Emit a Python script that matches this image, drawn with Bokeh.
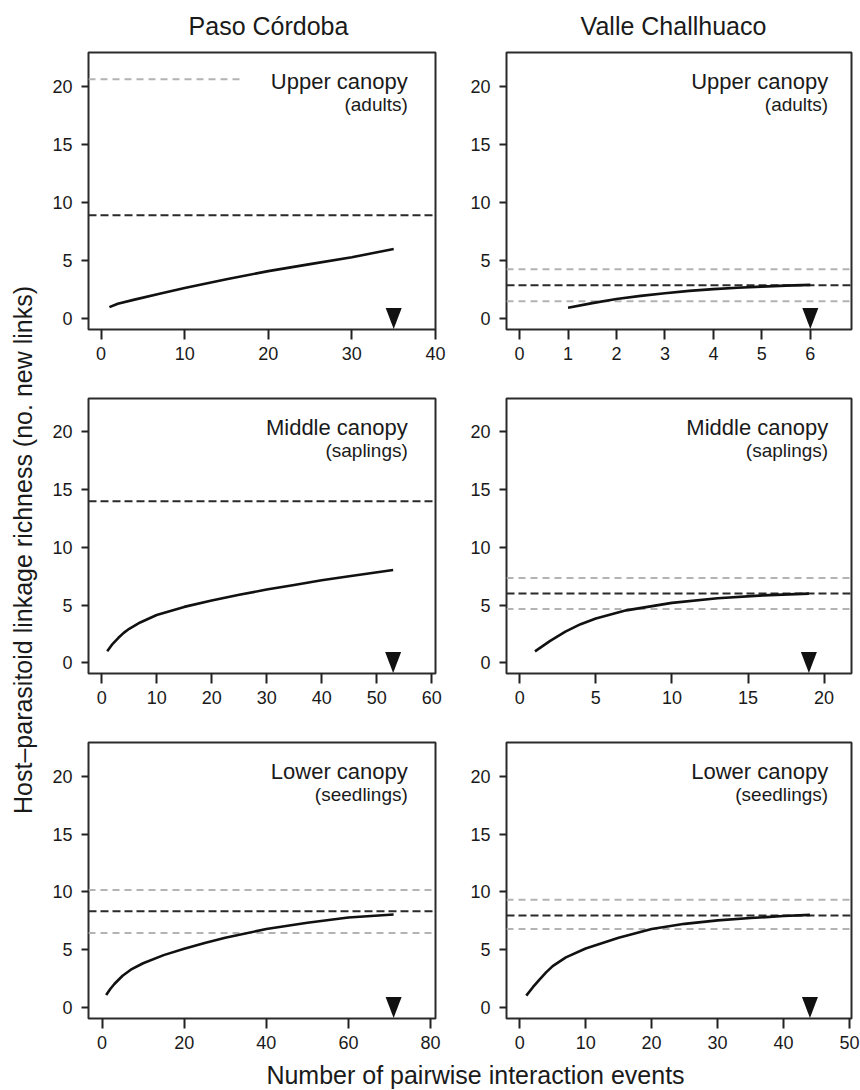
import math
from bokeh.plotting import figure
from bokeh.models import Range1d, FixedTicker, Span, Label, BoxAnnotation
from bokeh.layouts import row, column
from bokeh.embed import file_html
from bokeh.resources import INLINE

FONT = "Liberation Sans"
TXT = "#1a1a1a"
MID = 0.3465  # distance (em) between alphabetic baseline and "middle"

# ---------------- data ----------------
sites = ["Paso Córdoba", "Valle Challhuaco"]
strata = ["Upper canopy", "Middle canopy", "Lower canopy"]
stages = ["(adults)", "(saplings)", "(seedlings)"]
y_ticks = [0, 5, 10, 15, 20]

# Paso Córdoba
pc_upper_x = [1, 2, 4, 7, 10, 15, 20, 25, 30, 35]
pc_upper_y = [1.0, 1.3, 1.65, 2.15, 2.65, 3.4, 4.1, 4.7, 5.3, 6.0]
pc_middle_x = [1, 2, 3, 4, 5, 7, 10, 15, 20, 25, 30, 35, 40, 45, 53]
pc_middle_y = [1.0, 1.65, 2.15, 2.6, 2.95, 3.5, 4.15, 4.85, 5.4, 5.9, 6.35, 6.75, 7.15, 7.5, 8.05]
pc_lower_x = [1, 2, 3, 5, 7, 10, 15, 20, 25, 30, 40, 50, 60, 71]
pc_lower_y = [1.1, 1.63, 2.06, 2.77, 3.29, 3.85, 4.55, 5.1, 5.6, 6.05, 6.8, 7.35, 7.8, 8.05]

# Valle Challhuaco
vc_upper_x = [1, 1.5, 2, 2.5, 3, 3.5, 4, 4.5, 5, 5.5, 6]
vc_upper_y = [0.95, 1.35, 1.7, 1.97, 2.2, 2.4, 2.55, 2.67, 2.77, 2.85, 2.92]
vc_middle_x = [1, 2, 3, 4, 5, 7, 10, 13, 16, 19]
vc_middle_y = [1.0, 1.9, 2.7, 3.35, 3.85, 4.55, 5.2, 5.6, 5.85, 6.0]
vc_lower_x = [1, 2, 3, 4, 5, 7, 10, 15, 20, 25, 30, 35, 40, 44]
vc_lower_y = [1.05, 1.78, 2.43, 3.06, 3.6, 4.35, 5.12, 6.05, 6.8, 7.25, 7.55, 7.75, 7.92, 8.02]

# estimated asymptotic richness (mean) and its CI bounds (None = not shown)
pc_mean = [8.9, 14.0, 8.33]
pc_lo = [None, None, 6.46]
pc_hi = [20.6, None, 10.16]
vc_mean = [2.88, 6.0, 7.98]
vc_lo = [1.5, 4.67, 6.8]
vc_hi = [4.26, 7.36, 9.33]

# observed number of interaction events (arrowheads)
pc_n = [35, 53, 71]
vc_n = [6, 19, 44]

# x tick labels per panel
pc_x_ticks = [[0, 10, 20, 30, 40], [0, 10, 20, 30, 40, 50, 60], [0, 20, 40, 60, 80]]
vc_x_ticks = [[0, 1, 2, 3, 4, 5, 6], [0, 5, 10, 15, 20], [0, 10, 20, 30, 40, 50]]

# axis extents
pc_x_range = [(-1.5, 40.0), (-2.4, 60.7), (-3.3, 81.2)]
vc_x_range = [(-0.27, 6.85), (-0.87, 21.8), (-2.0, 50.3)]
y_range = (-0.92, 22.9)

# ---------------- layout geometry ----------------
TOTAL_W = 860
TITLE_H = 44
YLAB_W = 40
COL = [dict(w=415, l=48, r=20, inset=27.7, title_x=268),
       dict(w=405, l=51, r=9, inset=23.3, title_x=673)]
ROW = [dict(h=326, t=8, b=41), dict(h=344, t=28, b=41), dict(h=346, t=28, b=42)]

curves = [
    [(pc_upper_x, pc_upper_y), (pc_middle_x, pc_middle_y), (pc_lower_x, pc_lower_y)],
    [(vc_upper_x, vc_upper_y), (vc_middle_x, vc_middle_y), (vc_lower_x, vc_lower_y)],
]
means = [pc_mean, vc_mean]
los = [pc_lo, vc_lo]
his = [pc_hi, vc_hi]
ns = [pc_n, vc_n]
xticks = [pc_x_ticks, vc_x_ticks]
xranges = [pc_x_range, vc_x_range]


def panel(ci, ri):
    c, r = COL[ci], ROW[ri]
    fw = c["w"] - c["l"] - c["r"]
    fh = r["h"] - r["t"] - r["b"]
    x0, x1 = xranges[ci][ri]
    y0, y1 = y_range
    sx = fw / (x1 - x0)
    sy = fh / (y1 - y0)

    def X(px):
        return x0 + px / sx

    def Y(py):
        return y1 - py / sy

    p = figure(width=c["w"], height=r["h"], x_range=Range1d(x0, x1), y_range=Range1d(y0, y1),
               output_backend="svg", toolbar_location=None,
               min_border_left=c["l"], min_border_right=c["r"],
               min_border_top=r["t"], min_border_bottom=r["b"])
    p.grid.visible = False
    p.outline_line_color = "#2b2b2b"
    p.outline_line_width = 2
    p.background_fill_color = "white"
    p.border_fill_color = "white"

    for ax, ticks, standoff, tlen in ((p.xaxis, xticks[ci][ri], 7, 10), (p.yaxis, y_ticks, 9, 7)):
        ax.ticker = FixedTicker(ticks=ticks)
        ax.axis_line_color = None
        ax.major_tick_in = 0
        ax.major_tick_out = tlen
        ax.major_tick_line_color = "#222222"
        ax.major_tick_line_width = 2
        ax.minor_tick_line_color = None
        ax.major_label_standoff = standoff
        ax.major_label_text_font = FONT
        ax.major_label_text_font_size = "18px"
        ax.major_label_text_color = TXT

    # reference lines: CI bounds (grey) and estimated richness (black)
    for v in (los[ci][ri], his[ci][ri]):
        if v is not None:
            p.add_layout(Span(location=v, dimension="width", line_color="#b3b3b3",
                              line_width=2, line_dash="7 5", level="underlay"))
    p.add_layout(Span(location=means[ci][ri], dimension="width", line_color="#2a2a2a",
                      line_width=2, line_dash="8 4", level="underlay"))

    # rarefaction curve
    cx, cy = curves[ci][ri]
    p.line(cx, cy, line_color="#111111", line_width=2.6, line_join="round")

    # arrowhead at observed number of events
    n = ns[ci][ri]
    hw, th = 8 / sx, 21 / sy
    p.patch([n - hw, n + hw, n], [y0 + th + 0.5 / sy, y0 + th + 0.5 / sy, y0 + 0.5 / sy],
            fill_color="#111111", line_color=None)

    # legend (white background) with stratum label
    p.add_layout(BoxAnnotation(left=X(fw - c["inset"] - 165), right=X(fw - 3),
                               top=Y(8), bottom=Y(70), fill_color="white", fill_alpha=1.0,
                               line_color=None))
    p.add_layout(Label(x=X(fw - c["inset"]), y=Y(36.8 - MID * 22), text=strata[ri],
                       text_align="right", text_baseline="middle", text_font=FONT,
                       text_font_size="22px", text_color=TXT))
    p.add_layout(Label(x=X(fw - c["inset"]), y=Y(58.5 - MID * 19), text=stages[ri],
                       text_align="right", text_baseline="middle", text_font=FONT,
                       text_font_size="19px", text_color=TXT))
    return p


def text_fig(w, h, ystart):
    f = figure(width=w, height=h, x_range=Range1d(0, w), y_range=Range1d(ystart + h, ystart),
               output_backend="svg", toolbar_location=None, x_axis_type=None, y_axis_type=None,
               min_border=0)
    f.grid.visible = False
    f.outline_line_color = None
    return f


# column titles
tfig = text_fig(TOTAL_W, TITLE_H, 0)
for ci in range(2):
    tfig.add_layout(Label(x=COL[ci]["title_x"], y=34.3 - MID * 25, text=sites[ci],
                          text_align="center", text_baseline="middle", text_font=FONT,
                          text_font_size="25px", text_color=TXT))

panels_h = sum(r["h"] for r in ROW)
ylab = text_fig(YLAB_W, panels_h, TITLE_H)
ylab.add_layout(Label(x=31.5 - MID * 25, y=546,
                      text="Host\u2013parasitoid linkage richness  (no. new links)",
                      angle=math.pi / 2, text_align="center", text_baseline="middle",
                      text_font=FONT, text_font_size="25px", text_color=TXT))

bottom = TITLE_H + panels_h
xlab = text_fig(TOTAL_W, 1090 - bottom, bottom)
xlab.add_layout(Label(x=475, y=1083.5 - MID * 25, text="Number of pairwise interaction events",
                      text_align="center", text_baseline="middle",
                      text_font=FONT, text_font_size="25px", text_color=TXT))

cols = [column(*[panel(ci, ri) for ri in range(3)]) for ci in range(2)]
layout = column(tfig, row(ylab, cols[0], cols[1]), xlab)

open("out.html", "w").write(file_html(layout, INLINE))
